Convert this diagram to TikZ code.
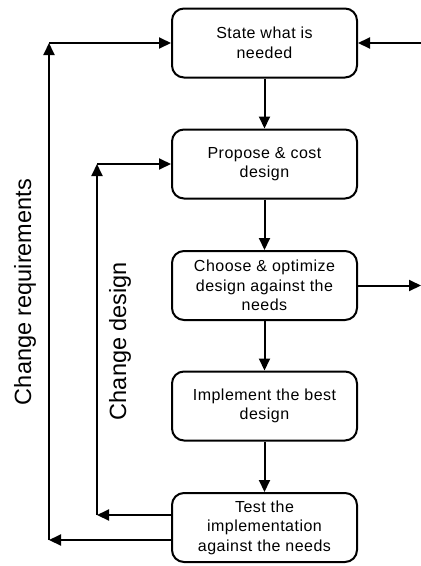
\documentclass[tikz,border=0pt]{standalone}
\usepackage{fontspec}
\setmainfont{Liberation Sans}
\newfontfamily\boxfont[LetterSpace=3]{Liberation Sans}
\usetikzlibrary{arrows.meta}
\begin{document}
\begin{tikzpicture}[x=1pt,y=1pt,
  stepbox/.style={draw, line width=2pt, rounded corners=12pt, minimum width=185pt,
    minimum height=69pt, align=center, inner sep=2pt,
    font=\boxfont\fontsize{16}{19.5}\selectfont},
  flow/.style={line width=2pt, -{Triangle[length=12pt,width=11pt]}},
  looplabel/.style={rotate=90, font=\fontsize{23.5}{28}\selectfont}]
\useasboundingbox (0,0) rectangle (421,-566);
\fill[white] (0,0) rectangle (421,-566);

% process steps
\node[stepbox] (s1) at (264.5,-43)  {State what is\\needed};
\node[stepbox] (s2) at (264.5,-164) {Propose \& cost\\design};
\node[stepbox] (s3) at (264.5,-285.5) {Choose \& optimize\\design against the\\needs};
\node[stepbox] (s4) at (264.5,-406) {Implement the best\\design};
\node[stepbox] (s5) at (264.5,-527.5) {Test the\\implementation\\against the needs};

% main flow
\draw[flow] (s1) -- (s2);
\draw[flow] (s2) -- (s3);
\draw[flow] (s3) -- (s4);
\draw[flow] (s4) -- (s5);

% external links
\coordinate (inR) at (421,-43);
\coordinate (outR) at (421,-285.5);
\draw[flow] (inR) -- (s1.east);
\draw[flow] (s3.east) -- (outR);

% design feedback loop
\coordinate (d1) at (97,-515);
\coordinate (d2) at (97,-164);
\draw[flow] (s5.west |- d1) -- (d1);
\draw[flow] (d1) -- (d2);
\draw[flow] (d2) -- (s2.west);

% requirements feedback loop
\coordinate (r1) at (49,-540);
\coordinate (r2) at (49,-43);
\draw[flow] (s5.west |- r1) -- (r1);
\draw[flow] (r1) -- (r2);
\draw[flow] (r2) -- (s1.west);

% loop labels
\node[looplabel] (lreq) at (25,-292) {Change requirements};
\node[looplabel] (ldes) at (120,-341) {Change design};
\end{tikzpicture}
\end{document}
